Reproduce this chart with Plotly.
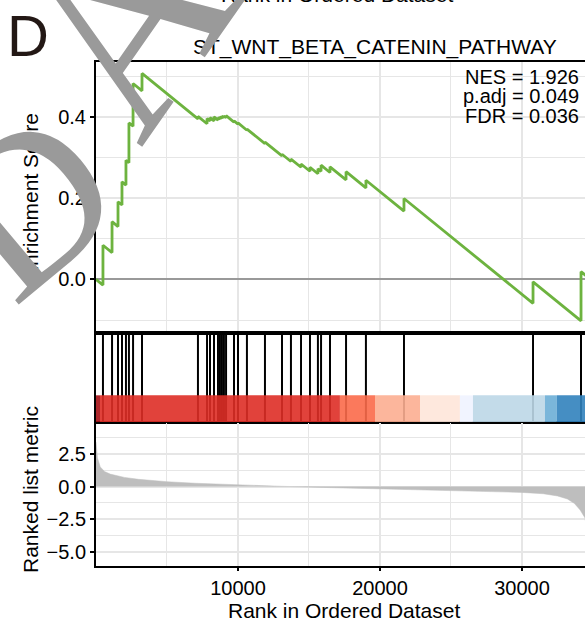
import plotly.graph_objects as go

# ---------------- data ----------------
gene_set = "ST_WNT_BETA_CATENIN_PATHWAY"
stats_lines = ["NES = 1.926", "p.adj = 0.049", "FDR = 0.036"]

# running enrichment score (rank, ES) vertices
es_rank = [0, 490, 490, 1130, 1130, 1550, 1550, 1830, 1830, 2110, 2110, 2320, 2320,
           2610, 2610, 3240, 3240, 7180, 7180, 7820, 7820, 8030, 8030, 8310, 8310,
           8590, 8590, 8730, 8730, 8870, 8870, 9010, 9010, 9160, 9160, 9720, 9720,
           10000, 10000, 10630, 10630, 11900, 11900, 13100, 13100, 13730, 13730,
           14440, 14440, 15070, 15070, 15630, 15630, 15850, 15850, 16480, 16480,
           17610, 17610, 19010, 19010, 21690, 21690, 30780, 30780, 34160, 34160, 34830]
es_value = [0.000, -0.014, 0.084, 0.066, 0.142, 0.130, 0.191, 0.183, 0.240, 0.232, 0.293,
            0.287, 0.385, 0.377, 0.482, 0.464, 0.507, 0.395, 0.401, 0.383, 0.396, 0.390,
            0.398, 0.390, 0.400, 0.392, 0.398, 0.394, 0.400, 0.396, 0.402, 0.398, 0.402,
            0.398, 0.403, 0.387, 0.390, 0.382, 0.385, 0.367, 0.370, 0.334, 0.338, 0.304,
            0.308, 0.290, 0.296, 0.276, 0.284, 0.266, 0.276, 0.260, 0.272, 0.266, 0.281,
            0.263, 0.277, 0.245, 0.265, 0.225, 0.244, 0.168, 0.199, -0.059, -0.006,
            -0.102, 0.019, 0.000]

# positions of gene-set members in the ranked list
hit_rank = [490, 1130, 1550, 1830, 2110, 2320, 2610, 3240, 7180, 7820, 8030, 8310, 8590,
            8730, 8870, 9010, 9160, 9720, 10000, 10630, 11900, 13100, 13730, 14440, 15070,
            15630, 15850, 16480, 17610, 19010, 21690, 30780, 34160]

# ranked list metric
metric_rank = [0, 100, 300, 600, 1000, 1500, 2000, 3000, 4000, 5000, 7000, 10000, 13000,
               16000, 19000, 22000, 25000, 28000, 30000, 31500, 32500, 33200, 33700,
               34100, 34440, 34830]
metric_value = [3.4, 2.2, 1.5, 1.15, 0.95, 0.8, 0.7, 0.55, 0.45, 0.37, 0.25, 0.12, 0.02,
                -0.07, -0.16, -0.24, -0.31, -0.38, -0.45, -0.55, -0.72, -0.95, -1.3,
                -1.8, -2.4, -5.6]

# colour bar segments under the rug
bar_start = [0, 280, 17180, 19650, 22820, 25630, 26550, 31620, 32460]
bar_end = [280, 17180, 19650, 22820, 25630, 26550, 31620, 32460, 34830]
bar_color = ["#A50F15", "#DE2D26", "#FB6A4A", "#FCAE91", "#FEE5D9", "#EFF3FF",
             "#BDD7E7", "#6BAED6", "#3182BD"]

x_ticks = [10000, 20000, 30000]
x_minor = [5000, 15000, 25000]
es_ticks = [0.0, 0.2, 0.4]
es_minor = [-0.1, 0.1, 0.3, 0.5]
m_ticks = [2.5, 0.0, -2.5, -5.0]
m_minor = [3.75, 1.25, -1.25, -3.75]

# watermark letters
wm_letters = ["D", "A", "T"]

# ---------------- layout geometry ----------------
W, H = 585, 629
ML, MR, MT, MB = 96, 0, 62, 63
PW, PH = W - ML - MR, H - MT - MB


def px(x):
    return (x - ML) / PW


def py(y):
    return (H - MB - y) / PH


FONT = "Liberation Sans, Arial, sans-serif"
GRID = "#E6E6E6"

fig = go.Figure()

# ES curve
fig.add_trace(go.Scatter(x=es_rank, y=es_value, mode="lines",
                         line=dict(color="#6DB33F", width=2.8),
                         xaxis="x", yaxis="y", hoverinfo="skip", showlegend=False))

# rug lines
rx, ry = [], []
for h in hit_rank:
    rx += [h, h, None]
    ry += [0, 1, None]
fig.add_trace(go.Scatter(x=rx, y=ry, mode="lines", line=dict(color="black", width=2),
                         xaxis="x2", yaxis="y2", hoverinfo="skip", showlegend=False))

# ranked metric
fig.add_trace(go.Scatter(x=metric_rank, y=metric_value, mode="lines", fill="tozeroy",
                         fillcolor="#BEBEBE", line=dict(color="#BEBEBE", width=0.5),
                         xaxis="x3", yaxis="y3", hoverinfo="skip", showlegend=False))

shapes = []
for s, e, c in zip(bar_start, bar_end, bar_color):
    shapes.append(dict(type="rect", xref="x2", yref="y2", x0=s, x1=e, y0=0, y1=0.3,
                       fillcolor=c, opacity=0.9, line=dict(width=0), layer="above"))

XR = [0, 34440]
common_x = dict(range=XR, showline=True, mirror=True, linecolor="black", linewidth=2,
                zeroline=False)
gridx = dict(showgrid=True, gridcolor=GRID, gridwidth=1.6, tickvals=x_ticks,
             tickformat="d",
             minor=dict(tickvals=x_minor, showgrid=True, gridcolor=GRID, gridwidth=1.2))

fig.update_layout(
    width=W, height=H, margin=dict(l=ML, r=MR, t=MT, b=MB),
    paper_bgcolor="white", plot_bgcolor="white", showlegend=False,
    font=dict(family=FONT, color="black"),
    xaxis=dict(**common_x, **gridx, anchor="y", domain=[0, 1], showticklabels=False,
               ticks=""),
    yaxis=dict(domain=[py(333), 1], range=[-0.132, 0.535], anchor="x",
               showline=True, linecolor="black", linewidth=2,
               tickvals=es_ticks, tickformat=".1f", ticks="outside", ticklen=4,
               tickwidth=2, tickcolor="black", tickfont=dict(size=20, family=FONT),
               showgrid=True, gridcolor=GRID, gridwidth=1.6,
               minor=dict(tickvals=es_minor, showgrid=True, gridcolor=GRID, gridwidth=1.2),
               zeroline=True, zerolinecolor="#999999", zerolinewidth=2),
    xaxis2=dict(**common_x, anchor="y2", domain=[0, 1], showgrid=False,
                showticklabels=False, ticks=""),
    yaxis2=dict(domain=[py(422), py(333)], range=[0, 1], anchor="x2", showline=True,
                linecolor="black", linewidth=2, showgrid=False, showticklabels=False,
                ticks="", zeroline=False),
    xaxis3=dict(**common_x, **gridx, anchor="y3", domain=[0, 1], ticks="outside",
                ticklen=3, tickwidth=2, tickcolor="black",
                tickfont=dict(size=20, family=FONT)),
    yaxis3=dict(domain=[0, py(423)], range=[-6.08, 4.86], anchor="x3", showline=True,
                linecolor="black", linewidth=2, tickvals=m_ticks, tickformat=".1f",
                ticks="outside", ticklen=4, tickwidth=2, tickcolor="black",
                tickfont=dict(size=20, family=FONT), showgrid=True, gridcolor=GRID,
                gridwidth=1.6,
                minor=dict(tickvals=m_minor, showgrid=True, gridcolor=GRID, gridwidth=1.2),
                zeroline=False),
    shapes=shapes,
)


def note(text, x, y, size, **kw):
    d = dict(text=text, x=px(x), y=py(y), xref="paper", yref="paper", showarrow=False,
             xanchor=kw.pop("xanchor", "center"), yanchor="middle",
             font=dict(size=size, family=kw.pop("family", FONT),
                       color=kw.pop("color", "black")))
    d.update(kw)
    return d


ann = []
ann.append(note("D", 28, 36, 58, color="#231815"))
ann.append(note(gene_set, 375, 47, 21))
for i, t in enumerate(stats_lines):
    ann.append(note(t, 581, 77 + 19.5 * i, 20, xanchor="right"))
ann.append(note("Enrichment Score", 30, 197, 21, textangle=-90))
ann.append(note("Ranked list metric", 30, 490, 21, textangle=-90))
ann.append(note("Rank in Ordered Dataset", 344, 610, 21))
# cut-off x title of the panel above
ann.append(note("Rank in Ordered Dataset", 337, -6, 21))
# watermark letters
wm_pos = [(26, 203), (123, 24), (221, -115)]
wm_size = [215, 255, 255]
wm_angle = [-40, -55, -55]
for ch, (cx, cy), sz, ang in zip(wm_letters, wm_pos, wm_size, wm_angle):
    ann.append(note(ch, cx, cy, sz, family="Liberation Serif, serif",
                    color="#9A9A9A", textangle=ang))
fig.update_layout(annotations=ann)

fig.write_html("out.html", config={"displayModeBar": False},
               post_script="document.body.style.margin='0';"
                           "document.documentElement.style.overflow='hidden';")
